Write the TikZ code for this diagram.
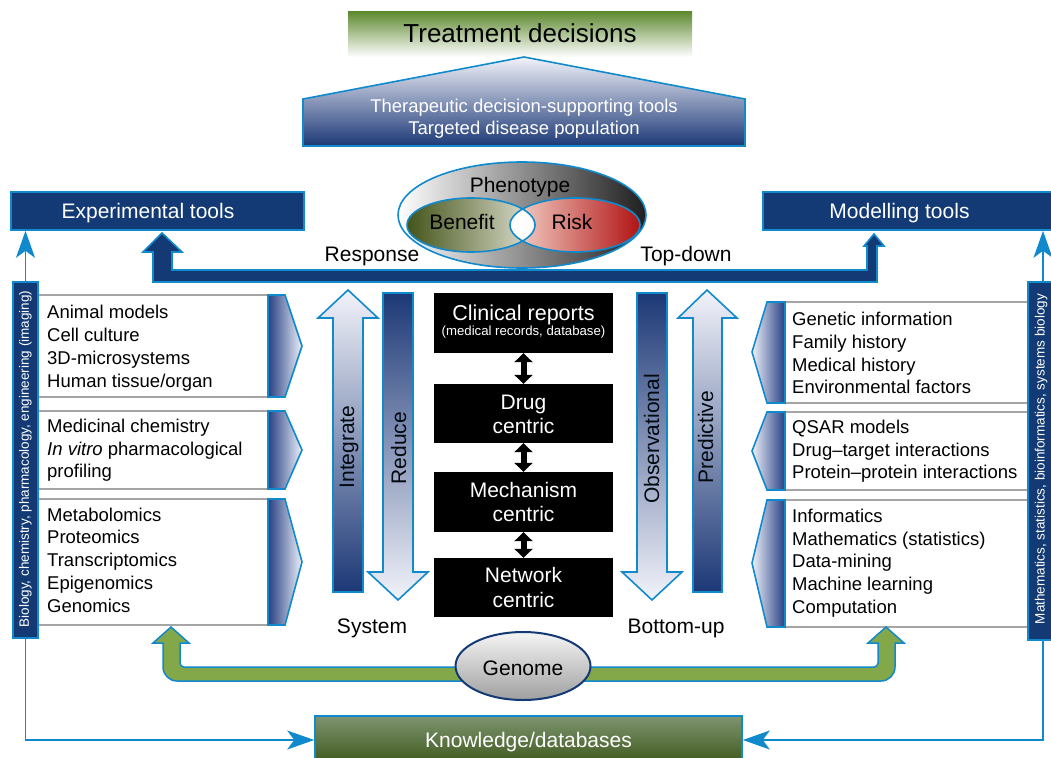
\documentclass[tikz,border=0pt]{standalone}
\usepackage{fontspec}
\setmainfont{Liberation Sans}
\usetikzlibrary{shapes.geometric,arrows.meta}

\definecolor{navy}{RGB}{19,58,116}
\definecolor{lblue}{RGB}{16,138,204}
\definecolor{boxgray}{RGB}{165,165,165}
\definecolor{pentlight}{RGB}{242,243,250}
\definecolor{pentdark}{RGB}{28,56,118}
\definecolor{chevdark}{RGB}{38,64,130}
\definecolor{chevlight}{RGB}{238,240,250}
\definecolor{tgreen}{RGB}{96,138,50}
\definecolor{kgtop}{RGB}{126,148,112}
\definecolor{kgbot}{RGB}{62,88,28}
\definecolor{olive}{RGB}{68,84,26}
\definecolor{oliveL}{RGB}{224,226,210}
\definecolor{riskL}{RGB}{246,216,206}
\definecolor{riskD}{RGB}{176,20,20}
\definecolor{greenL}{RGB}{130,168,74}
\definecolor{greenD}{RGB}{38,106,42}

\tikzset{
  bord/.style={draw=lblue, line width=1.6},
  lst/.style={font=\fontsize{18.5}{22}\selectfont, anchor=base west, inner sep=0},
  lbl/.style={font=\fontsize{21}{25}\selectfont, anchor=base, inner sep=0},
  sidetxt/.style={font=\fontsize{13.5}{16}\selectfont, text=white, rotate=90, inner sep=0},
  blackbox/.style={fill=black, minimum width=179, inner sep=0},
  whitebox/.style={draw=boxgray, line width=2, fill=white},
  thinarrow/.style={draw=lblue, line width=1.6, -{Stealth[length=27pt, width=19pt, inset=7pt]}},
  dblarrow/.style={line width=6, {Triangle[width=18pt, length=9pt]}-{Triangle[width=18pt, length=9pt]}},
}

\begin{document}
\begin{tikzpicture}[x=1pt, y=-1pt]
\useasboundingbox (0,0) rectangle (1051,757);

% ---- top: treatment decisions and the supporting-tools roof
\node[top color=tgreen, bottom color=white, minimum width=344, minimum height=45, inner sep=0]
  (treat) at (520,34.5) {};
\node[lbl, font=\fontsize{26}{30}\selectfont] (treattxt) at (520,43) {Treatment decisions};

\path[bord, top color=pentlight, bottom color=pentdark]
  (524,57) -- (745,99) -- (745,146) -- (303,146) -- (303,99) -- cycle;
\node[lbl, font=\fontsize{18.5}{22}\selectfont, text=white] (tools1) at (524,113) {Therapeutic decision-supporting tools};
\node[lbl, font=\fontsize{18.5}{22}\selectfont, text=white] (tools2) at (524,135) {Targeted disease population};

% ---- tool headers
\node[fill=navy, bord, minimum width=293, minimum height=38, inner sep=0] (exp) at (157.5,211) {};
\node[lbl, text=white] (exptxt) at (148,218) {Experimental tools};
\node[fill=navy, bord, minimum width=300, minimum height=38, inner sep=0] (mod) at (913,211) {};
\node[lbl, text=white] (modtxt) at (899.5,218) {Modelling tools};

% ---- broad response / top-down arrow
\path[bord, fill=navy]
  (162,233) -- (182,252) -- (172,252) -- (172,270) -- (867,270) -- (867,246) -- (864,246)
  -- (874,234) -- (884,246) -- (877,246) -- (877,282) -- (153,282) -- (153,252) -- (143,252) -- cycle;

% ---- phenotype
\node[ellipse, bord, left color=white, right color=black!88, minimum width=248, minimum height=106, inner sep=0]
  (pheno) at (522,215) {};
\node[ellipse, left color=olive, right color=oliveL, minimum width=128, minimum height=54, inner sep=0]
  (benefit) at (471,225) {};
\node[ellipse, left color=riskL, right color=riskD, minimum width=130, minimum height=54, inner sep=0]
  (risk) at (575,225) {};
\begin{scope}
  \clip (471,225) ellipse [x radius=64, y radius=27];
  \fill[left color=white, right color=riskL!60] (575,225) ellipse [x radius=65, y radius=27];
\end{scope}
\draw[draw=lblue, line width=1.6] (471,225) ellipse [x radius=64, y radius=27];
\draw[draw=lblue, line width=1.6] (575,225) ellipse [x radius=65, y radius=27];
\node[lbl] (phenotxt) at (520,192) {Phenotype};
\node[lbl] (benefittxt) at (462,229) {Benefit};
\node[lbl] (risktxt) at (572,229) {Risk};

\node[lbl] (response) at (372,261) {Response};
\node[lbl] (topdown) at (686,261) {Top-down};

% ---- experimental tool groups
\node[whitebox, minimum width=230, minimum height=102, inner sep=0] (e1) at (153,346) {};
\node[whitebox, minimum width=230, minimum height=78, inner sep=0] (e2) at (153,450) {};
\node[whitebox, minimum width=230, minimum height=126, inner sep=0] (e3) at (153,562) {};
\path[bord, left color=chevdark, right color=chevlight]
  (268,295) -- (285,295) -- (302,346) -- (285,397) -- (268,397) -- cycle;
\path[bord, left color=chevdark, right color=chevlight]
  (268,411) -- (285,411) -- (302,450) -- (285,489) -- (268,489) -- cycle;
\path[bord, left color=chevdark, right color=chevlight]
  (268,499) -- (285,499) -- (302,562) -- (285,625) -- (268,625) -- cycle;

\node[lst] (a1) at (47,318) {Animal models};
\node[lst] (a2) at (47,341) {Cell culture};
\node[lst] (a3) at (47,364) {3D-microsystems};
\node[lst] (a4) at (47,387) {Human tissue/organ};
\node[lst] (b1) at (47,432) {Medicinal chemistry};
\node[lst] (b2) at (47,455) {\textit{In vitro} pharmacological};
\node[lst] (b3) at (47,477) {profiling};
\node[lst] (c1) at (47,521) {Metabolomics};
\node[lst] (c2) at (47,543) {Proteomics};
\node[lst] (c3) at (47,566) {Transcriptomics};
\node[lst] (c4) at (47,589) {Epigenomics};
\node[lst] (c5) at (47,612) {Genomics};

% ---- modelling tool groups
\node[whitebox, minimum width=250, minimum height=101, inner sep=0] (m1) at (910,352.5) {};
\node[whitebox, minimum width=250, minimum height=78, inner sep=0] (m2) at (910,451) {};
\node[whitebox, minimum width=250, minimum height=127, inner sep=0] (m3) at (910,563.5) {};
\path[bord, left color=chevlight, right color=chevdark]
  (785,302) -- (767,302) -- (752,352) -- (767,403) -- (785,403) -- cycle;
\path[bord, left color=chevlight, right color=chevdark]
  (785,412) -- (767,412) -- (752,451) -- (767,490) -- (785,490) -- cycle;
\path[bord, left color=chevlight, right color=chevdark]
  (785,500) -- (767,500) -- (752,563) -- (767,627) -- (785,627) -- cycle;

\node[lst] (g1) at (792,325) {Genetic information};
\node[lst] (g2) at (792,348) {Family history};
\node[lst] (g3) at (792,371) {Medical history};
\node[lst] (g4) at (792,393) {Environmental factors};
\node[lst] (q1) at (792,433) {QSAR models};
\node[lst] (q2) at (792,456) {Drug–target interactions};
\node[lst] (q3) at (792,478) {Protein–protein interactions};
\node[lst] (i1) at (792,522) {Informatics};
\node[lst] (i2) at (792,545) {Mathematics (statistics)};
\node[lst] (i3) at (792,567) {Data-mining};
\node[lst] (i4) at (792,590) {Machine learning};
\node[lst] (i5) at (792,613) {Computation};

% ---- discipline side bars
\node[fill=navy, bord, minimum width=25, minimum height=356, inner sep=0] (lbar) at (25.5,460) {};
\node[sidetxt] (lbartxt) at (25.5,459) {Biology, chemistry, pharmacology, engineering (imaging)};
\node[fill=navy, bord, minimum width=30, minimum height=358, inner sep=0] (rbar) at (1043,461) {};
\node[sidetxt] (rbartxt) at (1041,459) {Mathematics, statistics, bioinformatics, systems biology};

\draw[thinarrow] (lbar.north) -- (exp.south -| lbar.north);
\draw[thinarrow] (rbar.north) -- (mod.south -| rbar.north);

% ---- integrate / reduce / observational / predictive
\path[bord, top color=pentlight, bottom color=pentdark]
  (348,290) -- (378,318) -- (363,318) -- (363,592) -- (333,592) -- (333,318) -- (318,318) -- cycle;
\path[bord, top color=pentdark, bottom color=pentlight]
  (383,293) -- (413,293) -- (413,572) -- (428,572) -- (398,600) -- (368,572) -- (383,572) -- cycle;
\path[bord, top color=pentdark, bottom color=pentlight]
  (637,293) -- (667,293) -- (667,572) -- (682,572) -- (652,600) -- (622,572) -- (637,572) -- cycle;
\path[bord, top color=pentlight, bottom color=pentdark]
  (707,290) -- (737,318) -- (722,318) -- (722,592) -- (693,592) -- (693,318) -- (678,318) -- cycle;
\node[lbl, rotate=90, text=black!85!navy] (integrate) at (354,447) {Integrate};
\node[lbl, rotate=90, text=black!85!navy] (reduce) at (406,448) {Reduce};
\node[lbl, rotate=90, text=black!85!navy] (observ) at (659,439) {Observational};
\node[lbl, rotate=90, text=black!85!navy] (predict) at (713,437) {Predictive};

\node[lbl] (system) at (372,633) {System};
\node[lbl] (bottomup) at (676,633) {Bottom-up};

% ---- central stack
\node[blackbox, minimum height=60] (clin) at (523.5,323) {};
\node[blackbox, minimum height=59] (drug) at (523.5,413.5) {};
\node[blackbox, minimum height=60] (mech) at (523.5,502) {};
\node[blackbox, minimum height=59] (net) at (523.5,587.5) {};
\node[lbl, text=white, font=\fontsize{21.5}{25}\selectfont] (clintxt) at (523.5,320) {Clinical reports};
\node[lbl, text=white, font=\fontsize{13.2}{16}\selectfont] (clinsub) at (523.5,335) {(medical records, database)};
\node[lbl, text=white] (drugtxt1) at (523.5,409) {Drug};
\node[lbl, text=white] (drugtxt2) at (523.5,433) {centric};
\node[lbl, text=white] (mechtxt1) at (523.5,497) {Mechanism};
\node[lbl, text=white] (mechtxt2) at (523.5,521) {centric};
\node[lbl, text=white] (nettxt1) at (523.5,582) {Network};
\node[lbl, text=white] (nettxt2) at (523.5,607) {centric};
\draw[dblarrow] (clin.south) -- (drug.north);
\draw[dblarrow] (drug.south) -- (mech.north);
\draw[dblarrow] (mech.south) -- (net.north);

% ---- genome feeding both tool sides
\path[draw=lblue, line width=1.5, left color=greenL, middle color=greenD, right color=greenL]
  (171,627) -- (189,643) -- (180,643) -- (180,663) arc[start angle=180, end angle=90, radius=4]
  -- (874,667) arc[start angle=90, end angle=0, radius=4] -- (878,643) -- (868,643)
  -- (886,627) -- (904,643) -- (895,643) -- (895,667) arc[start angle=0, end angle=90, radius=14]
  -- (177,681) arc[start angle=90, end angle=180, radius=14] -- (163,643) -- (153,643) -- cycle;
\node[ellipse, draw=navy, line width=2, top color=white!92!gray, bottom color=gray!75, minimum width=135, minimum height=68, inner sep=0]
  (genome) at (523,666) {};
\node[lbl] (genometxt) at (523,675) {Genome};

% ---- knowledge base
\node[top color=kgtop, bottom color=kgbot, bord, minimum width=427, minimum height=48, inner sep=0]
  (know) at (528.5,740) {};
\node[lbl, text=white] (knowtxt) at (528.5,747) {Knowledge/databases};
\draw[thinarrow] (lbar.south) |- (know.west);
\draw[thinarrow] (rbar.south) |- (know.east);
\end{tikzpicture}
\end{document}
